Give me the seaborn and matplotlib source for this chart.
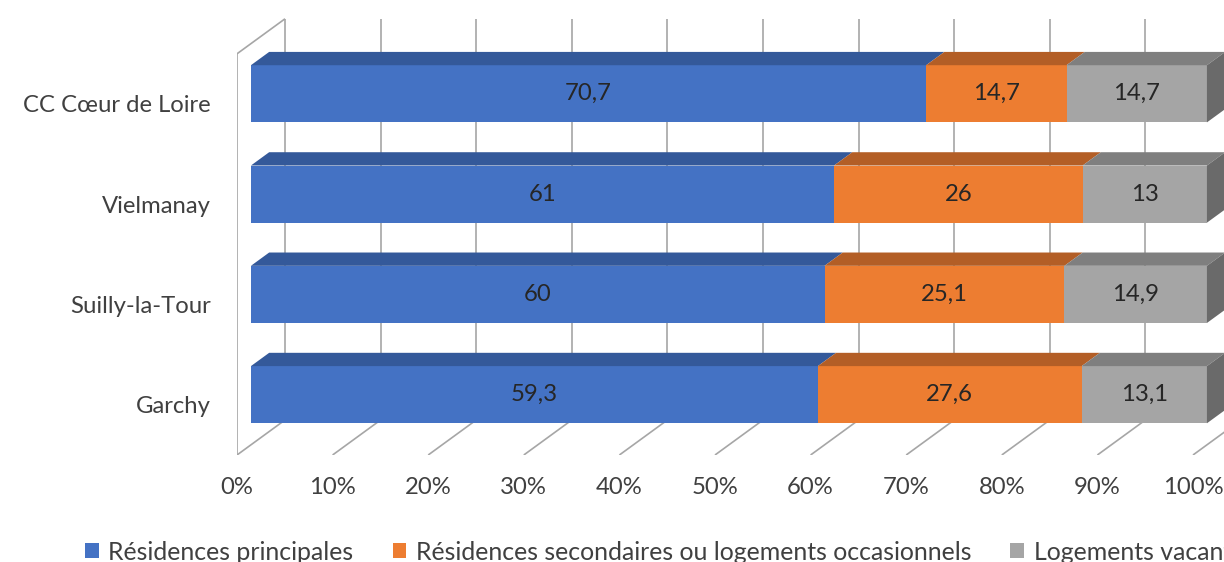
import numpy as np
import pandas as pd
import matplotlib
matplotlib.use("Agg")
import matplotlib.pyplot as plt
import seaborn as sns
from matplotlib.patches import Polygon, Patch

# ---------------- data ----------------
categories = ["CC Cœur de Loire", "Vielmanay", "Suilly-la-Tour", "Garchy"]
series_names = ["Résidences principales",
                "Résidences secondaires ou logements occasionnels",
                "Logements vacants"]
principales = [70.7, 61, 60, 59.3]
secondaires = [14.7, 26, 25.1, 27.6]
vacants = [14.7, 13, 14.9, 13.1]
x_ticks = [0, 10, 20, 30, 40, 50, 60, 70, 80, 90, 100]
x_tick_labels = ["0%", "10%", "20%", "30%", "40%", "50%", "60%", "70%", "80%", "90%", "100%"]

# ---------------- style ----------------
front_colors = ["#4472C4", "#ED7D31", "#A5A5A5"]
top_colors = ["#34599A", "#B35E26", "#7F7F7F"]
side_color = "#6A6A6A"
grid_color = "#A6A6A6"
text_color = "#404040"
FONT = ["Lato", "DejaVu Sans"]
FS = 17.2
FS_LEG = 17.9

sns.set_style("white")
plt.rcParams["font.family"] = FONT

W, H = 1224, 562
fig = plt.figure(figsize=(W / 100, H / 100), dpi=100)

# pseudo-3D projection parameters (box depth offsets)
PX_X = 9.56      # px per percent
PX_Y = 100.3     # px per category slot
DX = 48 / PX_X   # full depth shift in x units
DY = 35 / PX_Y   # full depth shift in category units
ZB = 0.29        # depth of bar front face
ZD = 0.38        # bar depth
BW = 0.57        # bar thickness
n = len(categories)


def proj(x, y, z):
    return x + (z - ZB) * DX, y - (z - ZB) * DY


# axes placement: left edge at front plane 0%, bottom at front floor
ax_left_px, ax_bottom_px = 237, 455
ax = fig.add_axes([ax_left_px / W, 1 - ax_bottom_px / H, 1 - ax_left_px / W, ax_bottom_px / H])

# normalise to 100 %
vals = np.array([principales, secondaires, vacants], dtype=float)
totals = vals.sum(axis=0)
pct = vals / totals * 100
cum = np.cumsum(pct, axis=0)

# ---------------- walls / grid ----------------
gkw = dict(color=grid_color, lw=1.2, zorder=0.5, solid_capstyle="butt")
xa, ya = zip(proj(0, -0.5, 0), proj(0, n - 0.5, 0))
ax.plot(xa, ya, **gkw)
xa, ya = zip(proj(0, -0.5, 0), proj(0, -0.5, 1))
ax.plot(xa, ya, **gkw)
for t in x_ticks:
    xa, ya = zip(proj(t, -0.5, 1), proj(t, n - 0.5, 1))
    ax.plot(xa, ya, **gkw)
    xa, ya = zip(proj(t, n - 0.5, 1), proj(t, n - 0.5, 0))
    ax.plot(xa, ya, **gkw)

# ---------------- bars (front faces) through seaborn ----------------
df = pd.DataFrame({"Commune": categories,
                   "c1": cum[0], "c2": cum[1], "c3": cum[2]})
for col, c in zip(["c3", "c2", "c1"], front_colors[::-1]):
    sns.barplot(data=df, x=col, y="Commune", order=categories, orient="h",
                color=c, saturation=1, width=BW, linewidth=0, ax=ax, zorder=1)

# ---------------- 3D top / side faces ----------------
dxb, dyb = ZD * DX, ZD * DY
for i in range(n):
    top = i - BW / 2
    bot = i + BW / 2
    left = 0.0
    for s in range(3):
        right = cum[s][i]
        poly = [(left, top), (right, top), (right + dxb, top - dyb), (left + dxb, top - dyb)]
        ax.add_patch(Polygon(poly, closed=True, facecolor=top_colors[s],
                             edgecolor="none", zorder=2))
        mid = (left + right) / 2
        lab = f"{vals[s][i]:g}".replace(".", ",")
        ax.text(mid, i, lab, ha="center", va="center", fontsize=FS,
                color="#262626", zorder=3)
        left = right
    side = [(left, top), (left, bot), (left + dxb, bot - dyb), (left + dxb, top - dyb)]
    ax.add_patch(Polygon(side, closed=True, facecolor=side_color,
                         edgecolor="none", zorder=2, clip_on=False))

# limits (after seaborn, which resets them)
x0 = proj(0, n - 0.5, 0)[0]
y_floor = proj(0, n - 0.5, 0)[1]
ax.set_xlim(x0, x0 + (W - ax_left_px) / PX_X)
ax.set_ylim(y_floor, y_floor - ax_bottom_px / PX_Y)

# ---------------- axes labels ----------------
ax.set_xticks([proj(t, n - 0.5, 0)[0] for t in x_ticks])
ax.set_xticklabels(x_tick_labels)
ax.set_yticks([proj(0, i, 0)[1] for i in range(n)])
ax.set_yticklabels(categories)
ax.tick_params(axis="x", length=0, pad=16, labelsize=FS, labelcolor=text_color)
ax.tick_params(axis="y", length=0, pad=19, labelsize=FS, labelcolor=text_color)
ax.set_xlabel("")
ax.set_ylabel("")
for sp in ax.spines.values():
    sp.set_visible(False)
ax.patch.set_alpha(0)

# ---------------- legend ----------------
handles = [Patch(facecolor=c, edgecolor="none") for c in front_colors]
fig.legend(handles, series_names, loc="center left",
           bbox_to_anchor=(85 / W, 1 - 552 / H), ncol=3, frameon=False,
           borderpad=0, borderaxespad=0, handlelength=0.55, handleheight=0.55,
           handletextpad=0.38, columnspacing=1.58, fontsize=FS_LEG,
           labelcolor=text_color)

fig.savefig("out.png", dpi=100)
